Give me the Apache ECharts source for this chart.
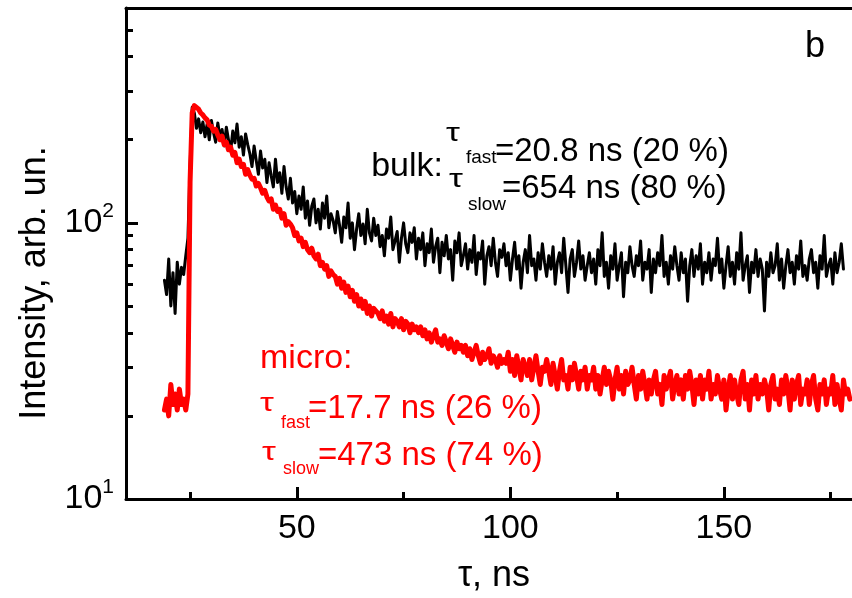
<!DOCTYPE html>
<html>
<head>
<meta charset="utf-8">
<script src="https://cdn.jsdelivr.net/npm/echarts@6/dist/echarts.min.js"></script>
<style>
html,body{margin:0;padding:0;background:#fff;}
#chart{width:852px;height:598px;}
</style>
</head>
<body>
<div id="chart"></div>
<script>
// sampling grid of the decay traces (ns)
const T0 = 19.0;
const DT = 0.5;

// bulk trace (black), arb. un.
const bulk = [
 62,55,74,50,66,47,72,60,69,65,76,88,160,262,250,220,238,212,232,205,
 228,200,235,212,196,230,205,218,190,222,200,182,215,195,228,188,205,176,210,192,
 178,160,190,168,150,182,158,170,140,165,148,135,170,140,152,128,160,135,122,145,
 118,130,108,125,112,135,104,120,98,115,122,100,112,95,118,104,125,96,108,102,
 92,110,98,85,105,96,118,88,100,80,95,108,90,99,84,112,92,86,104,90,
 98,82,90,76,95,88,105,80,86,93,72,88,100,84,78,92,85,96,74,88,
 80,92,70,84,78,95,72,82,88,66,85,76,90,74,80,62,86,78,92,70,
 76,84,68,80,72,90,65,78,74,86,60,76,82,70,88,72,64,80,75,84,
 70,78,62,74,85,68,76,58,72,80,66,90,70,74,62,78,68,84,72,64,
 76,68,82,60,72,78,66,88,70,56,74,80,64,72,86,68,76,62,70,78,
 66,74,60,80,70,92,64,72,58,76,68,84,62,70,78,54,72,66,82,70,
 64,76,70,86,62,72,68,80,56,74,66,78,70,90,64,72,60,76,68,82,
 70,62,78,66,74,52,70,80,64,76,68,84,60,72,66,78,62,74,70,88,
 66,74,58,70,82,64,72,60,78,68,92,62,70,76,56,72,66,80,64,74,
 68,48,72,64,78,66,70,84,62,74,58,70,80,66,72,60,76,68,86,64,
 70,62,74,80,66,72,58,76,68,90,64,70,74,60,78,66,72,84,68
];

// micro trace (red), arb. un.
const micro = [
 21,23,20,26,22,24,21,25,22,23,21,24,140,250,266,262,258,250,246,240,
 236,226,224,215,218,208,200,206,192,196,184,188,176,180,165,170,160,163,150,156,
 149,144,145,136,139,134,128,131,124,120,122,112,116,110,112,104,108,98,101,99,
 96,90,92,86,88,82,85,80,78,81,76,74,77,70,72,68,70,64,67,65,
 64,60,63,58,61,56,59,54,57,52,55,50,53,49,52,47,50,46,49,48,
 47,45,48,44,46,43,47,42,45,44,42,45,41,44,43,40,43,41,42,40,
 42,39,41,38,40,37,39,41,37,38,36,39,37,35,38,36,34,37,35,36,
 34,36,33,35,32,34,36,33,31,34,32,33,35,31,33,32,30,33,31,32,
 31,34,29,32,28,33,30,27,32,30,28,32,27,30,33,29,26,30,29,32,
 29,26,31,28,25,29,32,27,28,25,30,27,31,28,25,29,27,30,25,28,
 27,30,25,28,24,27,30,26,29,27,23,27,30,25,28,24,29,26,27,30,
 26,23,28,25,29,26,23,27,24,27,29,24,26,22,28,25,27,29,23,26,
 28,24,27,23,28,25,29,26,22,27,24,28,23,27,25,29,23,26,24,28,
 25,23,27,21,25,28,23,27,24,22,27,29,23,26,21,27,24,28,23,26,
 24,27,25,21,26,28,23,25,22,27,24,28,25,21,27,23,26,28,22,25,
 24,27,22,26,28,23,21,26,24,27,22,25,24,28,22,26,23,21,27,24,
 25,23
];

// axes
const X_MIN = 10, X_MAX = 180;
const Y_MIN = 10, Y_MAX = 600;
const xMajor = [50, 100, 150];
const xMinor = [25, 75, 125, 175];
const yMajor = [10, 100];
const yMinor = [20, 30, 40, 50, 60, 70, 80, 90, 200, 300, 400, 500];

const FONT = '"Liberation Sans", Arial, Helvetica, sans-serif';

function toPairs(arr) { return arr.map((v, i) => [T0 + i * DT, v]); }

function txt(x, baseline, text, size, color, align, sx) {
  return {
    type: 'text', x: x, y: baseline - 0.3465 * size, z: 100,
    scaleX: sx || 1,
    style: { text: text, fill: color, font: size + 'px ' + FONT,
             align: align || 'left', verticalAlign: 'middle',
             textAlign: align || 'left', textVerticalAlign: 'middle' }
  };
}

const chart = echarts.init(document.getElementById('chart'), null, { renderer: 'canvas' });
const axisLineStyle = { color: '#000', width: 3 };

const option = {
  animation: false,
  backgroundColor: '#fff',
  grid: { left: 126, top: 8, width: 727, height: 491, containLabel: false },
  xAxis: [
    { type: 'value', min: X_MIN, max: X_MAX, position: 'bottom',
      axisLine: { onZero: false, lineStyle: axisLineStyle },
      axisTick: { inside: true, length: 12, lineStyle: { color: '#000', width: 3 }, customValues: xMajor },
      axisLabel: { customValues: xMajor, color: '#000', fontSize: 34, fontFamily: FONT, margin: 13 },
      splitLine: { show: false } },
    { type: 'value', min: X_MIN, max: X_MAX, position: 'bottom',
      axisLine: { show: false, onZero: false },
      axisTick: { inside: true, length: 7, lineStyle: { color: '#000', width: 3 }, customValues: xMinor },
      axisLabel: { show: false }, splitLine: { show: false } },
    { type: 'value', min: X_MIN, max: X_MAX, position: 'top',
      axisLine: { onZero: false, lineStyle: axisLineStyle },
      axisTick: { show: false }, axisLabel: { show: false }, splitLine: { show: false } }
  ],
  yAxis: [
    { type: 'log', logBase: 10, min: Y_MIN, max: Y_MAX, position: 'left',
      axisLine: { onZero: false, lineStyle: axisLineStyle },
      axisTick: { inside: true, length: 12, lineStyle: { color: '#000', width: 3 }, customValues: yMajor },
      axisLabel: { customValues: yMajor, margin: 12, color: '#000',
        formatter: function (v) { return '{b|10}{s|' + Math.round(Math.log10(v)) + '}'; },
        rich: {
          b: { fontSize: 34, fontFamily: FONT, color: '#000', lineHeight: 44 },
          s: { fontSize: 21, fontFamily: FONT, color: '#000', verticalAlign: 'top', lineHeight: 22 }
        } },
      splitLine: { show: false } },
    { type: 'log', logBase: 10, min: Y_MIN, max: Y_MAX, position: 'left',
      axisLine: { show: false, onZero: false },
      axisTick: { inside: true, length: 7, lineStyle: { color: '#000', width: 3 }, customValues: yMinor },
      axisLabel: { show: false }, splitLine: { show: false } }
  ],
  series: [
    { name: 'bulk', type: 'line', xAxisIndex: 0, yAxisIndex: 0, data: toPairs(bulk),
      showSymbol: false, symbol: 'none', smooth: false,
      lineStyle: { color: '#000', width: 3, join: 'round', cap: 'round' }, z: 3 },
    { name: 'micro', type: 'line', xAxisIndex: 0, yAxisIndex: 0, data: toPairs(micro),
      showSymbol: false, symbol: 'none', smooth: false,
      lineStyle: { color: '#ff0000', width: 5, join: 'round', cap: 'round' }, z: 4 }
  ],
  graphic: [
    txt(805, 60, 'b', 36, '#000'),
    txt(443, 178, 'bulk:', 34, '#000', 'right'),
    txt(446, 143, 'τ', 26, '#000', 'left', 1.35),
    txt(466, 164, 'fast', 19, '#000'),
    txt(495, 163, '=20.8 ns (20 %)', 33, '#000'),
    txt(449, 189, 'τ', 26, '#000', 'left', 1.35),
    txt(468, 211, 'slow', 19, '#000'),
    txt(502, 200, '=654 ns (80 %)', 33, '#000'),
    txt(260, 370, 'micro:', 34, '#ff0000'),
    txt(260, 413, 'τ', 25, '#ff0000', 'left', 1.4),
    txt(281, 429, 'fast', 18, '#ff0000'),
    txt(308, 420, '=17.7 ns (26 %)', 33, '#ff0000'),
    txt(262, 462, 'τ', 25, '#ff0000', 'left', 1.4),
    txt(283, 475, 'slow', 18, '#ff0000'),
    txt(318, 467, '=473 ns (74 %)', 33, '#ff0000'),
    txt(494, 589, 'τ, ns', 36, '#000', 'center'),
    {
      type: 'text', x: 35, y: 283, rotation: Math.PI / 2, z: 100,
      style: { text: 'Intensity, arb. un.', fill: '#000', font: '36px ' + FONT,
               align: 'center', verticalAlign: 'middle', textAlign: 'center', textVerticalAlign: 'middle' }
    }
  ]
};
chart.setOption(option);
</script>
</body>
</html>
